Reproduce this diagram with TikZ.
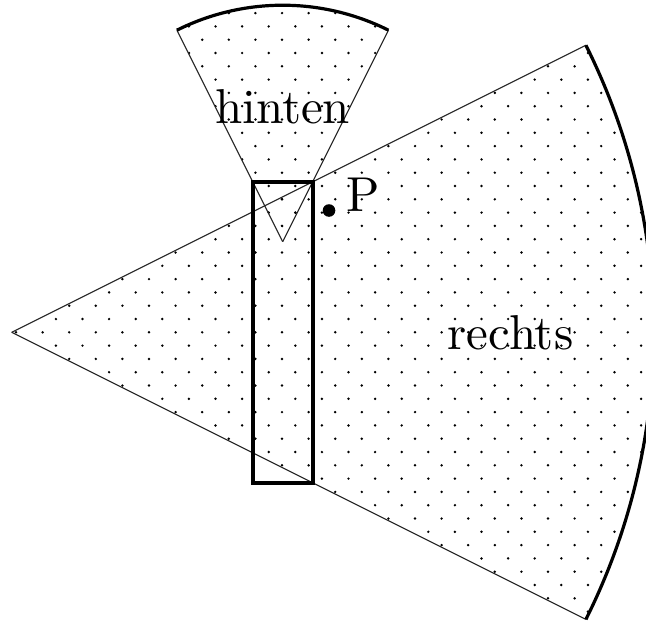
\documentclass[tikz,border=0pt]{standalone}
\begin{document}
\begin{tikzpicture}[x=1pt,y=-1pt,
  thinline/.style={line width=1.1pt,black!85},
  thickline/.style={line width=3.2pt,black},
  lbl/.style={inner sep=0pt,scale=4.9,font=\fontsize{10}{12}\selectfont}]
\useasboundingbox (0,0) rectangle (646,621);
\clip (0,0) rectangle (646,621);
% key points
\coordinate (A) at (11.7,332.3);
\coordinate (B) at (282.7,241.7);
% dots in large sector
\begin{scope}
  \clip (A) -- ++(-26.565:642) arc[start angle=-26.565,end angle=26.565,radius=642] -- cycle;
  \foreach \a in {0,...,24}{
    \foreach \b in {-13,...,11}{
      \fill (16+26.6*\a,332.3+26.6*\b) circle (1.35);
      \fill (29.3+26.6*\a,345.6+26.6*\b) circle (1.35);
    }
  }
\end{scope}
% dots in small sector
\begin{scope}
  \clip (B) -- ++(-116.565:236.5) arc[start angle=-116.565,end angle=-63.435,radius=236.5] -- cycle;
  \foreach \a in {6,...,15}{
    \foreach \b in {-13,...,-3}{
      \fill (16+26.6*\a,332.3+26.6*\b) circle (1.35);
      \fill (29.3+26.6*\a,345.6+26.6*\b) circle (1.35);
    }
  }
\end{scope}
% large sector
\draw[thinline] (A) -- ++(-26.565:642) coordinate (A1);
\draw[thinline] (A) -- ++(26.565:642) coordinate (A2);
\draw[thickline] (A1) arc[start angle=-26.565,end angle=26.565,radius=642];
% small sector
\draw[thinline] (B) -- ++(-116.565:236.5) coordinate (B1);
\draw[thinline] (B) -- ++(-63.435:236.5) coordinate (B2);
\draw[thickline] (B1) arc[start angle=-116.565,end angle=-63.435,radius=236.5];
% rectangle
\draw[thickline] (253,182) rectangle (313,483);
% point P
\fill (329,210.5) circle (6.3);
\node[lbl,anchor=base west] (Plabel) at (345.5,211) {P};
% labels
\node[lbl,anchor=base] (hinten) at (282.7,123) {hinten};
\node[lbl,anchor=base] (rechts) at (510.5,349.5) {rechts};
\end{tikzpicture}
\end{document}
